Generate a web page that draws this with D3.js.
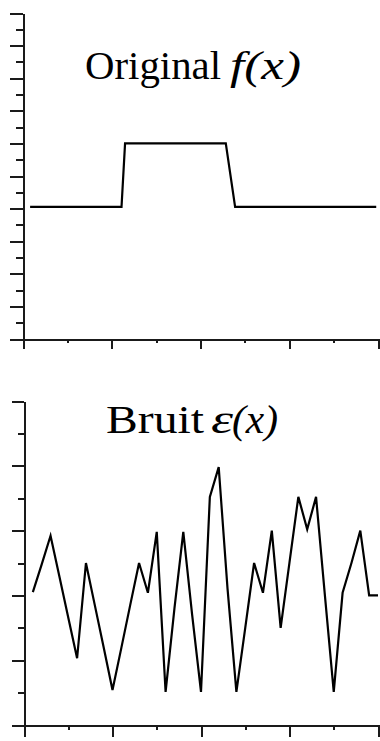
<!DOCTYPE html>
<html>
<head>
<meta charset="utf-8">
<script src="https://cdn.jsdelivr.net/npm/d3@7"></script>
<style>
  html, body { margin: 0; padding: 0; background: #fff; }
  svg { display: block; }
  .ttl { font-family: "Liberation Serif", "Times New Roman", serif; fill: #000; font-size: 40px; }
</style>
</head>
<body>
<svg id="chart" width="380" height="741"></svg>
<script>
// Sample positions along the x axis (shared by both panels)
const xTicks = [0, 5, 10, 15, 20, 25, 30, 35, 40];
const xMajor = [0, 10, 20, 30, 40];

// Upper panel: the original rectangular pulse f(x)
const pulseX = [0.8, 11.1, 11.5, 22.85, 23.9, 39.8];
const pulseY = [4.05, 4.05, 6, 6, 4.05, 4.05];
const pulseYTicks = [0, 0.5, 1, 1.5, 2, 2.5, 3, 3.5, 4, 4.5, 5, 5.5, 6, 6.5, 7, 7.5, 8, 8.5, 9, 9.5, 10];

// Lower panel: the noise ε(x)
const noiseX = [1, 2, 3, 4, 5, 6, 7, 8, 9, 10, 11, 12, 13, 14, 15, 16, 17, 18, 19, 20,
                21, 22, 23, 24, 25, 26, 27, 28, 29, 30, 31, 32, 33, 34, 35, 36, 37, 38, 39, 40];
const noiseY = [2.05, 2.48, 2.92, 2.29, 1.66, 1.03, 2.5, 1.85, 1.2, 0.54,
                1.19, 1.85, 2.5, 2.04, 2.98, 0.51, 1.8, 2.98, 1.7, 0.51,
                3.52, 3.98, 2.1, 0.51, 1.5, 2.5, 2.04, 3.0, 1.5, 2.51,
                3.52, 3.02, 3.52, 2.0, 0.51, 2.04, 2.5, 3.0, 2.0, 2.0];
const noiseYTicks = [0, 0.5, 1, 1.5, 2, 2.5, 3, 3.5, 4, 4.5, 5];

const svg = d3.select("#chart");
const axisColor = "#1a1a1a";

function drawPanel(opts) {
  const x = d3.scaleLinear().domain([0, 40]).range(opts.xRange);
  const y = d3.scaleLinear().domain(opts.yDomain).range(opts.yRange);
  const g = svg.append("g");

  const isMajorY = v => Number.isInteger(v);
  const isMajorX = v => xMajor.includes(v);

  // y axis: long ticks on whole units, short ticks on halves
  const yMinor = g.append("g").attr("transform", `translate(${opts.xRange[0]},0)`)
    .call(d3.axisLeft(y).tickValues(opts.yTicks.filter(v => !isMajorY(v)))
      .tickSize(opts.yMinorLen).tickFormat(""));
  g.append("g").attr("transform", `translate(${opts.xRange[0]},0)`)
    .call(d3.axisLeft(y).tickValues(opts.yTicks.filter(isMajorY))
      .tickSize(opts.yMajorLen).tickSizeOuter(0).tickFormat(""));
  yMinor.select(".domain").remove();

  // x axis along the bottom
  const xMinor = g.append("g").attr("transform", `translate(0,${opts.yRange[0]})`)
    .call(d3.axisBottom(x).tickValues(xTicks.filter(v => !isMajorX(v)))
      .tickSize(opts.xMinorLen).tickFormat(""));
  g.append("g").attr("transform", `translate(0,${opts.yRange[0]})`)
    .call(d3.axisBottom(x).tickValues(xMajor)
      .tickSize(opts.xMajorLen).tickSizeOuter(0).tickFormat(""));
  xMinor.select(".domain").remove();

  g.selectAll(".domain, .tick line")
    .attr("stroke", axisColor)
    .attr("stroke-width", 2)
    .attr("shape-rendering", "crispEdges");

  const line = d3.line().x((d, i) => x(opts.xs[i])).y(d => y(d));
  g.append("path")
    .datum(opts.ys)
    .attr("d", line)
    .attr("fill", "none")
    .attr("stroke", "#000")
    .attr("stroke-width", 2.2)
    .attr("stroke-linejoin", "miter");
}

drawPanel({
  xRange: [23, 378], yRange: [339, 13], yDomain: [0, 10],
  yTicks: pulseYTicks, yMajorLen: 13, yMinorLen: 7, xMajorLen: 10, xMinorLen: 4,
  xs: pulseX, ys: pulseY
});

drawPanel({
  xRange: [24, 378], yRange: [725, 401], yDomain: [0, 5],
  yTicks: noiseYTicks, yMajorLen: 12, yMinorLen: 6, xMajorLen: 12, xMinorLen: 5,
  xs: noiseX, ys: noiseY
});

// Panel titles, each word set to its own width
function label(str, x, y, width, italic) {
  const t = svg.append("text").attr("class", "ttl")
    .attr("x", x).attr("y", y).text(str);
  if (italic) t.attr("font-style", "italic");
  if (width) t.attr("textLength", width).attr("lengthAdjust", "spacingAndGlyphs");
  return t;
}
label("Original", 85, 79, 136, false);
label("f(x)", 230, 79, 71, true);

label("Bruit", 106, 433, 98, false);
label("ε", 211, 433, 22, true);
label("(x)", 232, 433, 46, true);
</script>
</body>
</html>
